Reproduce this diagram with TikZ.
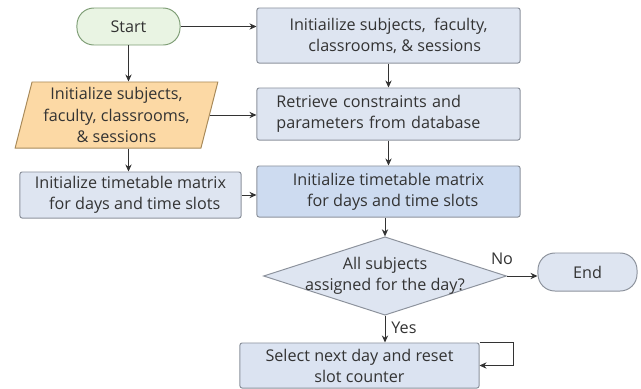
\documentclass[tikz,border=0pt]{standalone}
\usepackage{fontspec}
\setmainfont{Open Sans}
\usetikzlibrary{shapes.geometric,arrows.meta}

\definecolor{boxfill}{HTML}{DEE5F1}
\definecolor{boxdark}{HTML}{CDDBF0}
\definecolor{boxline}{HTML}{8C929C}
\definecolor{startfill}{HTML}{E9F4E3}
\definecolor{startline}{HTML}{7F9E76}
\definecolor{parafill}{HTML}{FCD9A5}
\definecolor{paraline}{HTML}{A88A5A}
\definecolor{inkgray}{HTML}{333333}

\tikzset{
  txt/.style={font=\fontsize{11.5}{15}\selectfont, text=inkgray},
  procbox/.style={txt, draw=boxline, fill=boxfill, rounded corners=1.5pt, line width=0.7pt, align=center, inner sep=0pt},
  pill/.style={txt, draw=startline, fill=startfill, rounded corners=12pt, line width=0.7pt, inner sep=0pt},
  iobox/.style={txt, trapezium, trapezium left angle=75, trapezium right angle=105, trapezium stretches=true, draw=paraline, fill=parafill, line width=0.7pt, align=center, inner sep=0pt},
  decide/.style={txt, diamond, aspect=3.1, draw=boxline, fill=boxfill, line width=0.7pt, align=center, inner sep=-2.8pt},
  arr/.style={-{Stealth[length=5pt,width=4.5pt]}, draw=inkgray, line width=0.6pt}
}

\begin{document}
\begin{tikzpicture}[x=0.025cm, y=-0.025cm]
			%%%%% START %%%%%
			\path[use as bounding box] (0,0) rectangle (641,389);
			
			\node[pill, minimum width=2.575cm, minimum height=0.925cm] (start) at (128.5, 26.5) {Start};
			\node[procbox, minimum width=6.575cm, minimum height=1.375cm] (init) at (388.5, 35.5) {Initiailize subjects,\ \ faculty,\\\ \ \ classrooms, \& sessions};
			
			\node[iobox, minimum width=5.075cm, minimum height=1.65cm] (input) at (116.5, 115) {Initialize subjects,\\faculty, classrooms,\\\& sessions};
			\node[procbox, align=left, text width=5.6cm, minimum width=6.575cm, minimum height=1.3cm] (fetch) at (388.5, 114) {Retrieve constraints and\\parameters from database};
			
			\node[procbox, minimum width=5.525cm, minimum height=1.15cm] (grid) at (130.5, 195) {Initialize timetable matrix\\\ \ for days and time slots};
			\node[procbox, fill=boxdark, minimum width=6.575cm, minimum height=1.275cm] (matrix) at (388.5, 191.5) {Initialize timetable matrix\\\ \ for days and time slots};
			
			\node[decide] (check) at (385, 276) {All subjects\\assigned for the day?};
			\node[pill, draw=boxline, fill=boxfill, minimum width=2.475cm, minimum height=0.95cm] (stop) at (587.5, 272) {End};
			\node[procbox, fill=boxfill!80!boxdark, minimum width=5.975cm, minimum height=1.125cm] (next) at (359.5, 365.5) {Select next day and reset\\slot counter};
			
			\node[txt] (no) at (502, 259) {No};
			\node[txt] (yes) at (404, 328) {Yes};
			
			% connectors
			\draw[arr] (start.east) -- (init.west |- start.east);
			\draw[arr] (start.south) -- (start.south |- input.north);
			\draw[arr] (input.east) -- (fetch.west |- input.east);
			\draw[arr] (init.south) -- (fetch.north);
			\draw[arr] (input.south -| start) -- (grid.north -| start);
			\draw[arr] (fetch.south) -- (matrix.north);
			\draw[arr] (grid.east) -- (matrix.west |- grid.east);
			\draw[arr] (matrix.south -| check.north) -- (check.north);
			\draw[arr] (check.east) -- (stop.west |- check.east);
			\draw[arr] (check.south) -- (check.south |- next.north);
			\draw[arr] (next.north east) -- ++(34,0) |- (next.east);
			
			%%%%% END %%%%%
		\end{tikzpicture}
\end{document}
